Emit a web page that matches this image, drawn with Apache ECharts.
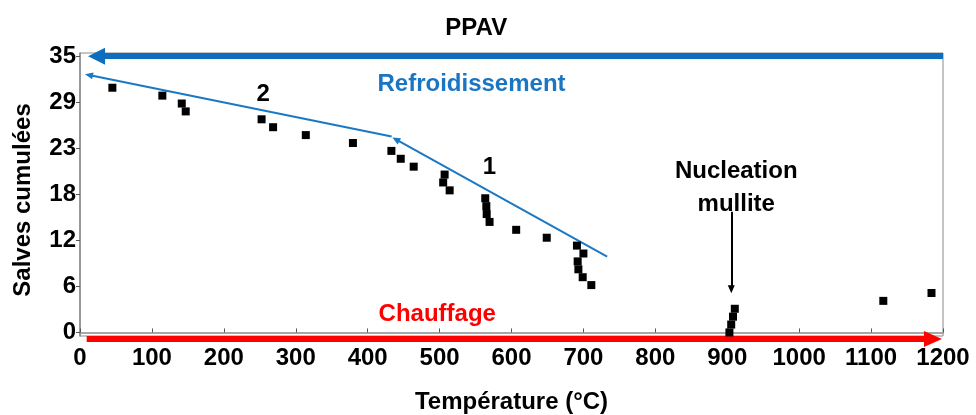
<!DOCTYPE html>
<html><head><meta charset="utf-8">
<script src="https://cdn.jsdelivr.net/npm/echarts@6/dist/echarts.min.js"></script>
<style>html,body{margin:0;padding:0;background:#fff}#c{width:976px;height:415px}</style>
</head><body><div id="c"></div>
<script>
// Axis settings
const xMin = 0, xMax = 1200, xInterval = 100;
const yMin = -0.45, yMax = 35.4;
const yTickValues = [0, 5.833, 11.667, 17.5, 23.333, 29.167, 35];
const yTickLabels = ['0', '6', '12', '18', '23', '29', '35'];

// Heating (Chauffage) points
const heatTemp = [903, 905.5, 908, 910.5, 1117, 1184];
const heatSalves = [0, 1, 2, 3, 4, 5];

// Cooling (Refroidissement) points
const coolTemp = [711, 699, 693, 692, 700, 691, 649, 606.5, 569.5, 565.5, 565, 563.5, 514, 505, 507, 464, 446, 433, 379.5, 314, 268.5, 252.5, 147, 141.5, 114.5, 45];
const coolSalves = [6, 7, 8, 9, 10, 11, 12, 13, 14, 15, 16, 17, 18, 19, 20, 21, 22, 23, 24, 25, 26, 27, 28, 29, 30, 31];

// Annotation arrows (data coordinates: from -> to)
const ppavArrow = [[1200, 35], [23, 35]];
const chauffageArrow = [[9.3, -0.83], [1186, -0.83]];
const trend1 = [[733, 9.6], [439.2, 24.45]];
const trend2 = [[433.3, 24.82], [12.4, 32.6]];
const nucleationArrow = [[905.6, 15.3], [905.6, 5.47]];

// Annotation texts
const noteText = ['PPAV', 'Refroidissement', '2', '1', 'Nucleation', 'mullite', 'Chauffage'];
const noteX = [551, 544.4, 254.6, 569.4, 912.5, 912.5, 496.8];
const noteY = [38.5, 31.45, 30.15, 20.85, 20.35, 16.25, 2.25];
const noteColor = ['#000000', '#1A75C2', '#000000', '#000000', '#000000', '#000000', '#FF0000'];

const FONT = "'Liberation Sans', Arial, sans-serif";
const chart = echarts.init(document.getElementById('c'), null, {renderer: 'canvas'});

function zip(xs, ys) { return xs.map((x, i) => [x, ys[i]]); }
function arrowSeries(coords, color, width, head) {
  return {
    type: 'lines', coordinateSystem: 'cartesian2d', clip: false, silent: true,
    symbol: ['none', 'triangle'], symbolSize: [0, head],
    lineStyle: {color: color, width: width, opacity: 1, cap: 'butt'},
    itemStyle: {color: color, opacity: 1},
    data: [{coords: coords}], z: 3
  };
}

chart.setOption({
  animation: false,
  backgroundColor: '#fff',
  grid: {left: 80, right: 33, top: 53, bottom: 79, outerBoundsMode: 'none', containLabel: false,
    show: true, borderColor: '#8a8a8a', borderWidth: 1, backgroundColor: 'transparent'},
  xAxis: {
    type: 'value', min: xMin, max: xMax, interval: xInterval,
    axisLine: {show: true, lineStyle: {color: '#8a8a8a', width: 1.5}},
    axisTick: {show: true, inside: true, length: 4, lineStyle: {color: '#555'}},
    splitLine: {show: false},
    axisLabel: {color: '#000', fontWeight: 'bold', fontSize: 24, fontFamily: FONT, margin: 10,
      formatter: v => String(v)},
    name: 'Température (°C)', nameLocation: 'middle', nameGap: 54,
    nameTextStyle: {color: '#000', fontWeight: 'bold', fontSize: 24, fontFamily: FONT}
  },
  yAxis: {
    type: 'value', min: yMin, max: yMax,
    axisLine: {show: true, lineStyle: {color: '#8a8a8a', width: 1.5}},
    axisTick: {show: true, inside: false, length: 4, customValues: yTickValues, lineStyle: {color: '#555'}},
    splitLine: {show: false},
    axisLabel: {
      color: '#000', fontWeight: 'bold', fontSize: 24, fontFamily: FONT, margin: 4,
      padding: [5, 0, 0, 0],
      customValues: yTickValues,
      formatter: function (v) {
        let best = 0;
        yTickValues.forEach((t, i) => { if (Math.abs(t - v) < Math.abs(yTickValues[best] - v)) best = i; });
        return yTickLabels[best];
      }
    },
    name: 'Salves cumulées', nameLocation: 'middle', nameGap: 45,
    nameTextStyle: {color: '#000', fontWeight: 'bold', fontSize: 24, fontFamily: FONT, padding: [0, 11, 0, 0]}
  },
  series: [
    arrowSeries(ppavArrow, '#0C6EBD', 6, [17, 17]),
    arrowSeries(chauffageArrow, '#FF0000', 6, [16, 18]),
    arrowSeries(trend1, '#1A78C4', 2, [7, 8]),
    arrowSeries(trend2, '#1A78C4', 2, [7, 8]),
    arrowSeries(nucleationArrow, '#000000', 2, [7, 8]),
    {
      type: 'scatter', symbol: 'rect', symbolSize: 8, itemStyle: {color: '#000', opacity: 1},
      data: zip(coolTemp, coolSalves), z: 4
    },
    {
      type: 'scatter', symbol: 'rect', symbolSize: 8, itemStyle: {color: '#000', opacity: 1},
      data: zip(heatTemp, heatSalves), z: 4
    },
    {
      type: 'scatter', clip: false, silent: true, symbolSize: 1,
      itemStyle: {color: 'rgba(0,0,0,0)', opacity: 1},
      label: {show: true, position: 'inside', fontWeight: 'bold', fontSize: 24, fontFamily: FONT,
        opacity: 1, textBorderWidth: 0,
        formatter: p => noteText[p.dataIndex]},
      data: noteText.map((t, i) => ({value: [noteX[i], noteY[i]], label: {color: noteColor[i]}})),
      z: 5
    }
  ]
});
</script></body></html>
